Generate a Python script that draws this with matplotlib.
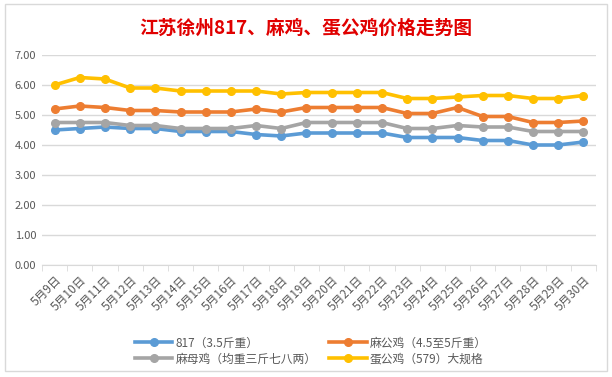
import numpy as np
import matplotlib.pyplot as plt
from matplotlib.patches import Rectangle

plt.rcParams['font.family'] = ['Noto Sans CJK SC', 'DejaVu Sans']

dates = [f"5月{d}日" for d in range(9, 31)]
s817 = [4.5, 4.55, 4.6, 4.55, 4.55, 4.45, 4.45, 4.45, 4.35, 4.3, 4.4,
        4.4, 4.4, 4.4, 4.25, 4.25, 4.25, 4.15, 4.15, 4.0, 4.0, 4.1]
s_magong = [5.2, 5.3, 5.25, 5.15, 5.15, 5.1, 5.1, 5.1, 5.2, 5.1, 5.25,
            5.25, 5.25, 5.25, 5.05, 5.05, 5.25, 4.95, 4.95, 4.75, 4.75, 4.8]
s_mamu = [4.75, 4.75, 4.75, 4.65, 4.65, 4.55, 4.55, 4.55, 4.65, 4.55, 4.75,
          4.75, 4.75, 4.75, 4.55, 4.55, 4.65, 4.6, 4.6, 4.45, 4.45, 4.45]
s_dan = [6.0, 6.25, 6.2, 5.9, 5.9, 5.8, 5.8, 5.8, 5.8, 5.7, 5.75,
         5.75, 5.75, 5.75, 5.55, 5.55, 5.6, 5.65, 5.65, 5.55, 5.55, 5.65]

series = [
    ("817（3.5斤重）", s817, "#5B9BD5"),
    ("麻公鸡（4.5至5斤重）", s_magong, "#ED7D31"),
    ("麻母鸡（均重三斤七八两）", s_mamu, "#A5A5A5"),
    ("蛋公鸡（579）大规格", s_dan, "#FFC000"),
]

fig = plt.figure(figsize=(6.12, 3.77), dpi=100)
fig.patches.append(Rectangle((0.008, 0.015), 0.984, 0.975, transform=fig.transFigure,
                             fill=False, edgecolor="#D9D9D9", linewidth=1))
ax = fig.add_axes([42 / 612, 1 - 265 / 377, (596 - 42) / 612, (265 - 55) / 377])

x = np.arange(len(dates))
lines = []
for label, vals, color in series:
    ln, = ax.plot(x, vals, "-o", color=color, linewidth=2.6, markersize=5.5, label=label)
    lines.append(ln)

ax.set_xlim(-0.5, len(dates) - 0.5)
ax.set_ylim(0, 7)
ax.set_yticks(np.arange(0, 7.01, 1))
ax.set_yticklabels([f"{v:.2f}" for v in np.arange(0, 7.01, 1)])
ax.grid(axis="y", color="#D9D9D9", linewidth=1)
ax.set_axisbelow(True)
for s in ["top", "right", "left"]:
    ax.spines[s].set_visible(False)
ax.spines["bottom"].set_color("#D9D9D9")
ax.tick_params(axis="y", length=0, labelsize=8, labelcolor="#595959", pad=4)
ax.set_xticks(x)
ax.set_xticklabels(dates, rotation=45, ha="right", rotation_mode="anchor")
ax.tick_params(axis="x", length=0, labelsize=8.5, labelcolor="#595959", pad=6)
ax.set_xticks(np.arange(-0.5, len(dates), 1), minor=True)
ax.tick_params(axis="x", which="minor", length=4, color="#D9D9D9")

fig.text(0.5, 1 - 28 / 377, "江苏徐州817、麻鸡、蛋公鸡价格走势图", ha="center", va="center",
         fontsize=13.5, fontweight="bold", color="#E00000")

# legend fills column by column: reorder so rows read 817 / 麻公鸡, 麻母鸡 / 蛋公鸡
order = [0, 2, 1, 3]
leg = fig.legend([lines[i] for i in order], [series[i][0] for i in order],
                 loc="upper left", bbox_to_anchor=(124 / 612, 1 - 326 / 377), ncol=2,
                 frameon=False, handlelength=3.2, columnspacing=1.0,
                 labelspacing=0.25, handletextpad=0.3, prop={"size": 8.5})
for t in leg.get_texts():
    t.set_color("#595959")

fig.savefig("out.png", dpi=100)
